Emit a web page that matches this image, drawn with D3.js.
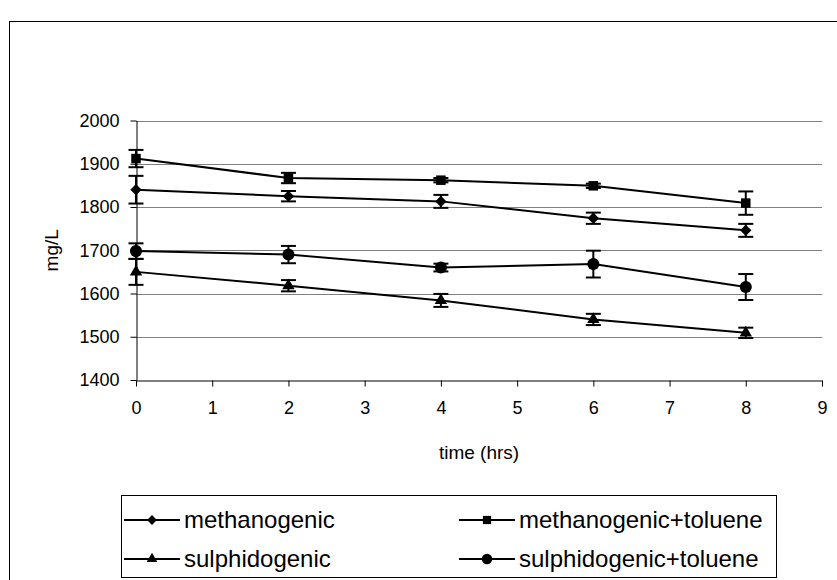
<!DOCTYPE html>
<html>
<head>
<meta charset="utf-8">
<script src="https://cdn.jsdelivr.net/npm/d3@7"></script>
<style>
  body { margin: 0; background: #fff; }
  text { font-family: "Liberation Sans", Arial, sans-serif; fill: #000; }
</style>
</head>
<body>
<script>
// hours sampled
const times = [0, 2, 4, 6, 8];

// mean concentrations (mg/L) and error half-widths
const methanogenic = [1840, 1825, 1813, 1774, 1746];
const methanogenicErr = [32, 12, 15, 13, 15];
const methanogenicTol = [1912, 1867, 1862, 1849, 1809];
const methanogenicTolErr = [20, 12, 5, 5, 27];
const sulphidogenic = [1650, 1618, 1584, 1540, 1509];
const sulphidogenicErr = [30, 13, 15, 13, 12];
const sulphidogenicTol = [1698, 1690, 1660, 1668, 1615];
const sulphidogenicTolErr = [18, 20, 9, 31, 30];

const yTicks = [1400, 1500, 1600, 1700, 1800, 1900, 2000];
const xTicks = [0, 1, 2, 3, 4, 5, 6, 7, 8, 9];

const series = [
  {name: 'methanogenic', values: methanogenic, err: methanogenicErr, symbol: d3.symbolDiamond2, size: 82},
  {name: 'methanogenic+toluene', values: methanogenicTol, err: methanogenicTolErr, symbol: d3.symbolSquare2, size: 115},
  {name: 'sulphidogenic', values: sulphidogenic, err: sulphidogenicErr, symbol: d3.symbolTriangle2, size: 110},
  {name: 'sulphidogenic+toluene', values: sulphidogenicTol, err: sulphidogenicTolErr, symbol: d3.symbolCircle, size: 115}
];

const W = 837, H = 580;
const plot = {left: 136, right: 822, top: 120.5, bottom: 380};
const font = '"Liberation Sans", Arial, sans-serif';

const svg = d3.select('body').append('svg')
    .attr('width', W).attr('height', H);

// outer frame of the chart area
svg.append('rect')
    .attr('x', 9.5).attr('y', 21.5)
    .attr('width', 840).attr('height', 580)
    .attr('fill', 'none').attr('stroke', '#000').attr('stroke-width', 1);

const x = d3.scaleLinear().domain([0, 9]).range([plot.left, plot.right]);
const y = d3.scaleLinear().domain([1400, 2000]).range([plot.bottom, plot.top]);

// horizontal gridlines
svg.append('g')
  .selectAll('line')
  .data(yTicks.slice(1))
  .enter().append('line')
    .attr('x1', plot.left).attr('x2', plot.right)
    .attr('y1', d => Math.round(y(d)) + 0.5).attr('y2', d => Math.round(y(d)) + 0.5)
    .attr('stroke', '#808080').attr('stroke-width', 1);

const xAxis = d3.axisBottom(x).tickValues(xTicks).tickFormat(d3.format('d'))
    .tickSize(6).tickSizeOuter(0).tickPadding(15);
svg.append('g')
    .attr('transform', 'translate(0,' + (Math.round(plot.bottom) + 0.5) + ')')
    .call(xAxis)
    .call(g => g.selectAll('text').attr('font-size', 18).attr('font-family', font))
    .call(g => g.selectAll('line, path').attr('stroke', '#000'));

const yAxis = d3.axisLeft(y).tickValues(yTicks).tickFormat(d3.format('d'))
    .tickSize(6).tickSizeOuter(0).tickPadding(11);
svg.append('g')
    .attr('transform', 'translate(' + (plot.left + 0.5) + ',0)')
    .call(yAxis)
    .call(g => g.selectAll('text').attr('font-size', 18).attr('font-family', font))
    .call(g => g.selectAll('line, path').attr('stroke', '#000'));

// axis titles
svg.append('text')
    .attr('x', (plot.left + plot.right) / 2).attr('y', 459)
    .attr('text-anchor', 'middle').attr('font-size', 19)
    .text('time (hrs)');

svg.append('text')
    .attr('transform', 'translate(51,' + ((plot.top + plot.bottom) / 2) + ') rotate(-90)')
    .attr('text-anchor', 'middle').attr('dy', '0.35em').attr('font-size', 19)
    .text('mg/L');

const line = d3.line()
    .x((d, i) => x(times[i]))
    .y(d => y(d));

series.forEach(s => {
  const g = svg.append('g');
  g.append('path')
      .datum(s.values)
      .attr('d', line)
      .attr('fill', 'none').attr('stroke', '#000').attr('stroke-width', 2);

  const pts = s.values.map((v, i) => ({t: times[i], v: v, e: s.err[i]}));

  // error bars
  const eb = g.selectAll('.eb').data(pts).enter().append('g');
  eb.append('line')
      .attr('x1', d => x(d.t)).attr('x2', d => x(d.t))
      .attr('y1', d => y(d.v + d.e)).attr('y2', d => y(d.v - d.e))
      .attr('stroke', '#000').attr('stroke-width', 2);
  [1, -1].forEach(sign => {
    eb.append('line')
        .attr('x1', d => x(d.t) - 7.5).attr('x2', d => x(d.t) + 7.5)
        .attr('y1', d => y(d.v + sign * d.e)).attr('y2', d => y(d.v + sign * d.e))
        .attr('stroke', '#000').attr('stroke-width', 2);
  });

  g.selectAll('.mk').data(pts).enter().append('path')
      .attr('transform', d => 'translate(' + x(d.t) + ',' + y(d.v) + ')')
      .attr('d', d3.symbol().type(s.symbol).size(s.size))
      .attr('fill', '#000');
});

// legend
const legend = svg.append('g');
legend.append('rect')
    .attr('x', 121.5).attr('y', 495.5)
    .attr('width', 655).attr('height', 82)
    .attr('fill', '#fff').attr('stroke', '#000').attr('stroke-width', 1);

const legendPos = [
  {lx: 124, ly: 520}, {lx: 459, ly: 520},
  {lx: 124, ly: 559}, {lx: 459, ly: 559}
];

series.forEach((s, i) => {
  const p = legendPos[i];
  legend.append('line')
      .attr('x1', p.lx).attr('x2', p.lx + 56)
      .attr('y1', p.ly).attr('y2', p.ly)
      .attr('stroke', '#000').attr('stroke-width', 2);
  legend.append('path')
      .attr('transform', 'translate(' + (p.lx + 28) + ',' + p.ly + ')')
      .attr('d', d3.symbol().type(s.symbol).size(s.size * 0.75))
      .attr('fill', '#000');
  legend.append('text')
      .attr('x', p.lx + 60).attr('y', p.ly)
      .attr('dy', '0.35em').attr('font-size', 24)
      .text(s.name);
});
</script>
</body>
</html>
